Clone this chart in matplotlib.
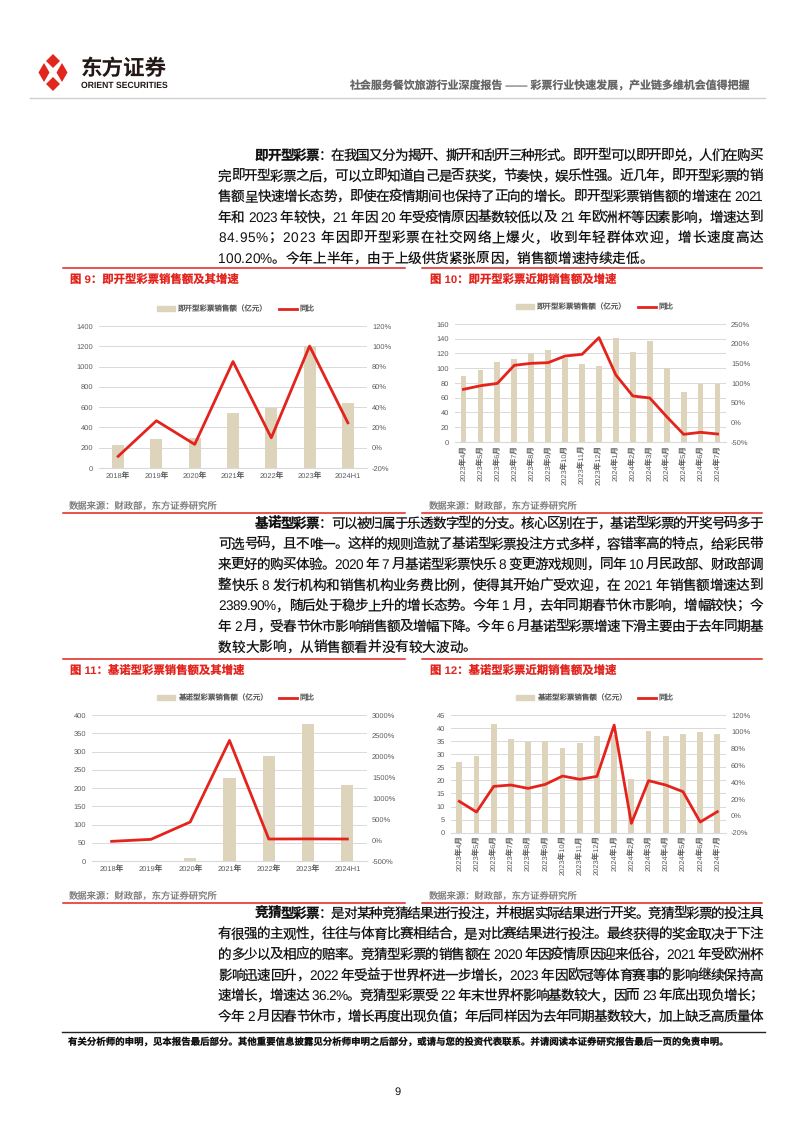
import numpy as np
import matplotlib
matplotlib.use('Agg')
import matplotlib.pyplot as plt
from matplotlib.font_manager import FontProperties
from matplotlib.patches import Polygon, Patch
from matplotlib.lines import Line2D
from matplotlib.ticker import FuncFormatter

FAM = ['Liberation Sans', 'Noto Sans CJK SC']
plt.rcParams['font.family'] = FAM
plt.rcParams['axes.unicode_minus'] = False
plt.rcParams['text.hinting'] = 'no_hinting'

# ---------------- data ----------------
years = ['2018年', '2019年', '2020年', '2021年', '2022年', '2023年', '2024H1']
months = ['2023年4月', '2023年5月', '2023年6月', '2023年7月', '2023年8月', '2023年9月',
          '2023年10月', '2023年11月', '2023年12月', '2024年1月', '2024年2月', '2024年3月',
          '2024年4月', '2024年5月', '2024年6月', '2024年7月']

instant_year_sales = [226, 285, 293, 544, 594, 1200, 639]
instant_year_yoy = [-8.5, 26.6, 3.3, 84.95, 9.8, 100.2, 24.6]

instant_month_sales = [89.5, 97.6, 108.5, 112.5, 120.2, 124.7, 114, 105.8, 103, 140.6,
                       122, 137, 100.3, 67.8, 78.6, 78.2]
instant_month_yoy = [83.9, 93, 99, 145, 150, 151.7, 168.6, 172.9, 215.3, 120.3,
                     67, 61.9, 14.4, -30.5, -25.4, -29.7]

keno_year_sales = [0, 0, 9, 227, 289, 374, 209]
keno_year_yoy = [-29, 19, 435, 2389.9, 27, 30, 27]

keno_month_sales = [26.9, 29.2, 41.6, 35.9, 34.8, 35.1, 32.4, 34.4, 36.8, 37.5,
                    20.6, 38.9, 36.8, 37.7, 38.4, 37.7]
keno_month_yoy = [17.3, 4.6, 35.1, 36.7, 32.7, 37.5, 47.4, 43.5, 47, 108,
                  -8.9, 41.9, 36.7, 28.8, -7.3, 5]

para1 = ['：在我国又分为揭开、撕开和刮开三种形式。即开型可以即开即兑，人们在购买',
         '完即开型彩票之后，可以立即知道自己是否获奖，节奏快，娱乐性强。近几年，即开型彩票的销',
         '售额呈快速增长态势，即使在疫情期间也保持了正向的增长。即开型彩票销售额的增速在 2021',
         '年和 2023 年较快，21 年因 20 年受疫情原因基数较低以及 21 年欧洲杯等因素影响，增速达到',
         '84.95%；2023 年因即开型彩票在社交网络上爆火，收到年轻群体欢迎，增长速度高达',
         '100.20%。今年上半年，由于上级供货紧张原因，销售额增速持续走低。']
para2 = ['：可以被归属于乐透数字型的分支。核心区别在于，基诺型彩票的开奖号码多于',
         '可选号码，且不唯一。这样的规则造就了基诺型彩票投注方式多样，容错率高的特点，给彩民带',
         '来更好的购买体验。2020 年 7 月基诺型彩票快乐 8 变更游戏规则，同年 10 月民政部、财政部调',
         '整快乐 8 发行机构和销售机构业务费比例，使得其开始广受欢迎，在 2021 年销售额增速达到',
         '2389.90%，随后处于稳步上升的增长态势。今年 1 月，去年同期春节休市影响，增幅较快；今',
         '年 2 月，受春节休市影响销售额及增幅下降。今年 6 月基诺型彩票增速下滑主要由于去年同期基',
         '数较大影响，从销售额看并没有较大波动。']
para3 = ['：是对某种竞猜结果进行投注，并根据实际结果进行开奖。竞猜型彩票的投注具',
         '有很强的主观性，往往与体育比赛相结合，是对比赛结果进行投注。最终获得的奖金取决于下注',
         '的多少以及相应的赔率。竞猜型彩票的销售额在 2020 年因疫情原因迎来低谷，2021 年受欧洲杯',
         '影响迅速回升，2022 年受益于世界杯进一步增长，2023 年因欧冠等体育赛事的影响继续保持高',
         '速增长，增速达 36.2%。竞猜型彩票受 22 年末世界杯影响基数较大，因而 23 年底出现负增长；',
         '今年 2 月因春节休市，增长再度出现负值；年后同样因为去年同期基数较大，加上缺乏高质量体']

BEIGE = '#DED4BC'
RED = '#E3231C'
GRID = '#D9D9D9'
TICK = '#595959'

W, H = 794, 1123
fig = plt.figure(figsize=(W / 100, H / 100), dpi=100)
rend = fig.canvas.get_renderer()


def fx(x):
    return x / W


def fy(y):
    return 1 - y / H


def hline(x0, x1, y, color, lw):
    fig.add_artist(Line2D([fx(x0), fx(x1)], [fy(y), fy(y)], transform=fig.transFigure,
                          color=color, lw=lw))


#------------------- body text, justified char by char -------------------
def text_line(x0, x1, y, s, head='', justify=True, size=9.8):
    chars = [(c, 'bold') for c in head] + [(c, 'normal') for c in s]
    props, widths = [], []
    for c, wt in chars:
        fam = 'Liberation Sans' if ord(c) < 128 else 'Noto Sans CJK SC'
        fp = FontProperties(family=fam, size=size, weight=wt)
        props.append(fp)
        if c == ' ':
            widths.append(size * 100 / 72 * 0.28)
        else:
            widths.append(rend.get_text_width_height_descent(c, fp, ismath=False)[0])
    gap = 0
    if justify and len(chars) > 1:
        gap = (x1 - x0 - sum(widths)) / (len(chars) - 1)
    x = x0
    for (c, wt), fp, wd in zip(chars, props, widths):
        if c != ' ':
            fig.text(fx(x), fy(y + 4.8), c, fontproperties=fp, color='#111111',
                     ha='left', va='baseline')
        x += wd + gap


def paragraph(y0, head, lines, last_justify=False):
    for i, s in enumerate(lines):
        if i == 0:
            text_line(255, 763, y0, s, head=head)
        else:
            just = last_justify or i < len(lines) - 1
            text_line(218, 763, y0 + i * 20.6, s, justify=just)


paragraph(155, '即开型彩票', para1)
paragraph(523, '基诺型彩票', para2)
paragraph(913, '竞猜型彩票', para3, last_justify=True)

#------------------------------ header ------------------------------
for cx, cy, hw, hh in [(53, 61, 7, 7), (53, 84, 7, 7), (44, 72.5, 5.5, 9.5), (62, 72.5, 5.5, 9.5)]:
    pts = [(fx(cx), fy(cy - hh)), (fx(cx + hw), fy(cy)), (fx(cx), fy(cy + hh)), (fx(cx - hw), fy(cy))]
    fig.add_artist(Polygon(pts, closed=True, transform=fig.transFigure, color='#E2261D', lw=0))
fig.text(fx(81), fy(69), '东方证券', fontsize=15.5, weight='bold', color='#231815', va='center')
fig.text(fx(81), fy(86), 'ORIENT SECURITIES', fontsize=6.2, weight='bold', color='#231815', va='center')
fig.text(fx(750), fy(86), '社会服务餐饮旅游行业深度报告 —— 彩票行业快速发展，产业链多维机会值得把握',
         fontsize=7.9, weight='bold', color='#666666', ha='right', va='center')
hline(30, 765, 97.5, '#D0D0D0', 1)

#------------------------------ footer ------------------------------
hline(62, 765, 1031.5, '#222222', 1)
fig.text(fx(68), fy(1042), '有关分析师的申明，见本报告最后部分。其他重要信息披露见分析师申明之后部分，'
         '或请与您的投资代表联系。并请阅读本证券研究报告最后一页的免责申明。',
         fontsize=6.8, weight='bold', color='#111111', va='center')
fig.text(fx(398), fy(1092), '9', fontsize=8, color='#111111', ha='center', va='center')

#-------------------------- captions and sources --------------------------
for ytop, ybot, t1, t2 in [(268, 513, '图 9：即开型彩票销售额及其增速', '图 10：即开型彩票近期销售额及增速'),
                           (659, 903, '图 11：基诺型彩票销售额及其增速', '图 12：基诺型彩票近期销售额及增速')]:
    hline(63, 405, ytop, RED, 1.1)
    hline(422, 762, ytop, RED, 1.1)
    hline(63, 405, ybot, RED, 1.1)
    hline(422, 762, ybot, RED, 1.1)
    fig.text(fx(70), fy(ytop + 12), t1, fontsize=8.2, weight='bold', color=RED, va='center')
    fig.text(fx(430), fy(ytop + 12), t2, fontsize=8.2, weight='bold', color=RED, va='center')
    fig.text(fx(69), fy(ybot - 7), '数据来源：财政部，东方证券研究所', fontsize=6.7, color='#7F7F7F', va='center')
    fig.text(fx(429), fy(ybot - 7), '数据来源：财政部，东方证券研究所', fontsize=6.7, color='#7F7F7F', va='center')


#------------------------------ charts ------------------------------
def chart(box, cats, sales, yoy, lmax, lstep, rmin, rmax, rstep, label, leg_x, leg_y, rot):
    x0, y0, x1, y1 = box
    ax = fig.add_axes([fx(x0), fy(y1), (x1 - x0) / W, (y1 - y0) / H])
    pos = np.arange(len(cats))
    ax.bar(pos, sales, width=0.34 if rot else 0.31, color=BEIGE, zorder=2)
    ax.set_xlim(-0.5, len(cats) - 0.5)
    ax.set_ylim(0, lmax)
    ax.set_yticks(np.arange(0, lmax + lstep / 2, lstep))
    ax.grid(axis='y', color=GRID, lw=0.7)
    ax.set_axisbelow(True)
    for s in ['top', 'right', 'left']:
        ax.spines[s].set_visible(False)
    ax.spines['bottom'].set_color(GRID)
    ax.set_xticks(pos)
    ax.set_xticklabels(cats, rotation=90 if rot else 0)
    ax.tick_params(axis='y', length=0, labelsize=5.4, colors=TICK, pad=4.3)
    ax.tick_params(axis='x', length=0, labelsize=5.4, colors=TICK, pad=2 if rot else 3.5)

    ax2 = ax.twinx()
    ax2.plot(pos, yoy, color=RED, lw=2, zorder=3)
    ax2.set_ylim(rmin, rmax)
    ax2.set_yticks(np.arange(rmin, rmax + rstep / 2, rstep))
    ax2.yaxis.set_major_formatter(FuncFormatter(lambda v, p: f'{v:.0f}%'))
    for s in ax2.spines.values():
        s.set_visible(False)
    ax2.tick_params(length=0, labelsize=5.4, colors=TICK, pad=3.6)

    handles = [Patch(color=BEIGE), Line2D([], [], color=RED, lw=2)]
    ax.legend(handles, [label, '同比'], loc='center', bbox_to_anchor=(fx(leg_x), fy(leg_y)),
              bbox_transform=fig.transFigure, ncol=2, frameon=False, fontsize=5.4,
              handlelength=2.3, handleheight=0.7, columnspacing=1.6, handletextpad=0.4,
              labelcolor=TICK)


chart((99, 326, 367, 468), years, instant_year_sales, instant_year_yoy,
      1400, 200, -20, 120, 20, '即开型彩票销售额（亿元）', 236, 309, False)
chart((455, 324, 726, 442), months, instant_month_sales, instant_month_yoy,
      160, 20, -50, 250, 50, '即开型彩票销售额（亿元）', 595, 307, True)
chart((92, 715, 367, 861), years, keno_year_sales, keno_year_yoy,
      400, 50, -500, 3000, 500, '基诺型彩票销售额（亿元）', 236, 698, False)
chart((450.7, 715, 726, 832.7), months, keno_month_sales, keno_month_yoy,
      45, 5, -20, 120, 20, '基诺型彩票销售额（亿元）', 595, 698, True)

fig.savefig('out.png', dpi=100)
